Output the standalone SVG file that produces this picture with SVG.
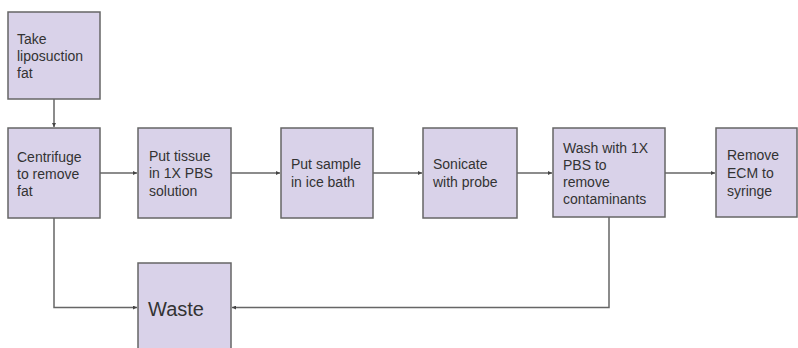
<svg xmlns="http://www.w3.org/2000/svg" width="798" height="348" viewBox="0 0 798 348">
<defs>
<style>
.box{fill:#d9d2e9;stroke:#666666;stroke-width:1.5}
.t{font-family:"Liberation Sans",Arial,sans-serif;font-size:14px;fill:#333333}
.big{font-size:20px}
.c{fill:none;stroke:#666666;stroke-width:1.5}
</style>
<marker id="ah" viewBox="0 0 10 10" refX="10" refY="5" markerWidth="4" markerHeight="4" orient="auto" markerUnits="userSpaceOnUse">
<path d="M0,0 L10,5 L0,10 Z" fill="#444444"/>
</marker>
</defs>
<rect width="798" height="348" fill="#ffffff"/>
<g id="connectors">
<path class="c" d="M54,99 V127" marker-end="url(#ah)"/>
<path class="c" d="M100,173 H137" marker-end="url(#ah)"/>
<path class="c" d="M231,173 H280" marker-end="url(#ah)"/>
<path class="c" d="M373,173 H422" marker-end="url(#ah)"/>
<path class="c" d="M517,173 H552" marker-end="url(#ah)"/>
<path class="c" d="M665,173 H715" marker-end="url(#ah)"/>
<path class="c" d="M54,218 V307.5 H137" marker-end="url(#ah)"/>
<path class="c" d="M609,217 V307.5 H232" marker-end="url(#ah)"/>
</g>
<g id="take">
<rect class="box" x="8" y="12" width="92" height="87"/>
<text class="t" x="17" y="44">Take</text>
<text class="t" x="17" y="61">liposuction</text>
<text class="t" x="17" y="78">fat</text>
</g>
<g id="centrifuge">
<rect class="box" x="8" y="128" width="92" height="90"/>
<text class="t" x="17" y="162">Centrifuge</text>
<text class="t" x="17" y="179">to remove</text>
<text class="t" x="17" y="196">fat</text>
</g>
<g id="tissue">
<rect class="box" x="138" y="128" width="93" height="90"/>
<text class="t" x="149" y="161">Put tissue</text>
<text class="t" x="149" y="178">in 1X PBS</text>
<text class="t" x="149" y="196">solution</text>
</g>
<g id="icebath">
<rect class="box" x="281" y="128" width="92" height="90"/>
<text class="t" x="291" y="169">Put sample</text>
<text class="t" x="291" y="187">in ice bath</text>
</g>
<g id="sonicate">
<rect class="box" x="423" y="128" width="94" height="90"/>
<text class="t" x="433" y="169">Sonicate</text>
<text class="t" x="433" y="187">with probe</text>
</g>
<g id="wash">
<rect class="box" x="553" y="128" width="112" height="89"/>
<text class="t" x="563" y="153">Wash with 1X</text>
<text class="t" x="563" y="170">PBS to</text>
<text class="t" x="563" y="187">remove</text>
<text class="t" x="563" y="204">contaminants</text>
</g>
<g id="remove">
<rect class="box" x="716" y="128" width="81" height="89"/>
<text class="t" x="727" y="160">Remove</text>
<text class="t" x="727" y="178">ECM to</text>
<text class="t" x="727" y="196">syringe</text>
</g>
<g id="waste">
<rect class="box" x="138" y="263" width="93" height="95"/>
<text class="t big" x="148" y="316">Waste</text>
</g>
</svg>
